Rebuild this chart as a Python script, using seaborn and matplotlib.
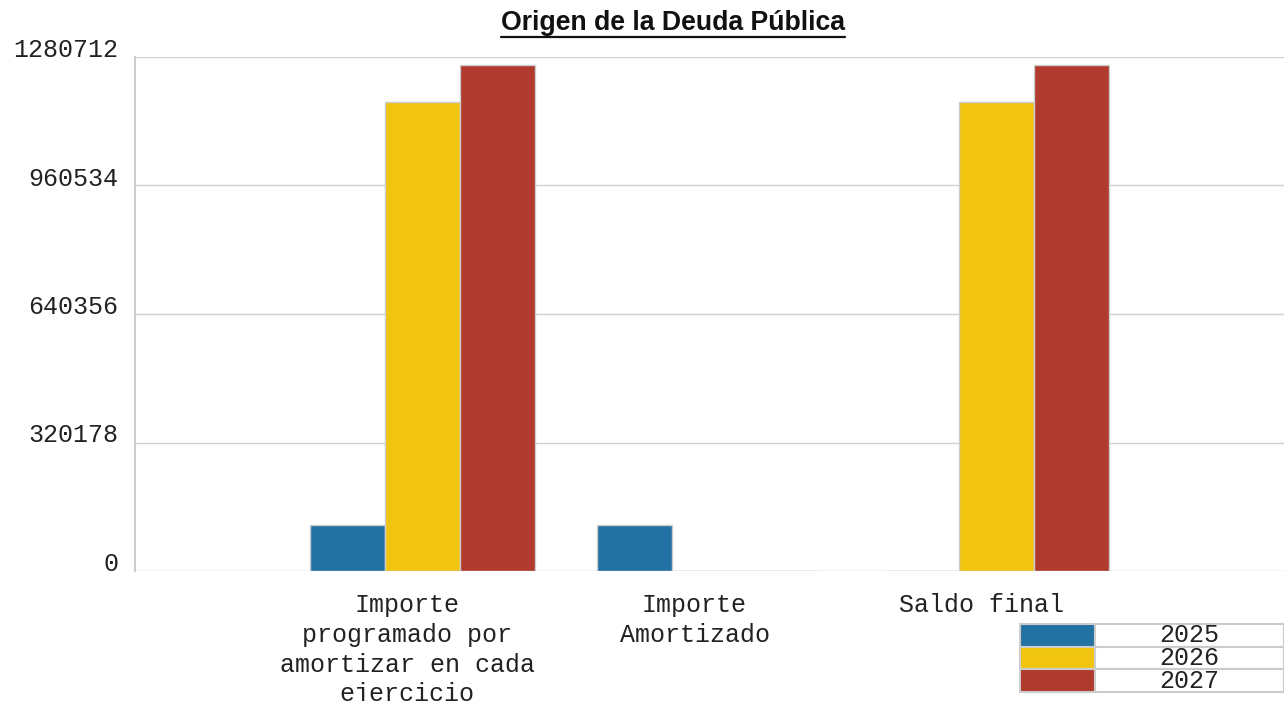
import pandas as pd
import matplotlib.pyplot as plt
import matplotlib.transforms as mtransforms
import seaborn as sns
from matplotlib.lines import Line2D

# donnees
categorias = ["Importe\nprogramado por\namortizar en cada\nejercicio",
              "Importe\nAmortizado",
              "Saldo final"]
anios = ["2025", "2026", "2027"]
valores_2025 = [113400, 113400, 0]
valores_2026 = [1168600, 0, 1168600]
valores_2027 = [1261500, 0, 1261500]
ticks_y = [0, 320178, 640356, 960534, 1280712]
colores = ["#2471A3", "#F1C40F", "#B03A2E"]

df = pd.DataFrame({
    "categoria": categorias * 3,
    "anio": [a for a in anios for _ in categorias],
    "valor": valores_2025 + valores_2026 + valores_2027,
})

sns.set_style("white")
plt.rcParams["font.family"] = ["Liberation Mono", "DejaVu Sans Mono"]

fig = plt.figure(figsize=(12.84, 7.01), dpi=100)
ax = fig.add_axes([135 / 1284, 1 - 571 / 701, 1 - 135 / 1284, (571 - 57) / 701])

sns.barplot(data=df, x="categoria", y="valor", hue="anio", hue_order=anios,
            order=categorias, palette=colores, width=0.785, saturation=1,
            edgecolor="#cccccc", linewidth=1, legend=False, ax=ax, zorder=3)

ax.set_xlim(-1, 3)
ax.set_ylim(0, ticks_y[-1])
ax.set_yticks(ticks_y)
ax.set_yticklabels([str(t) for t in ticks_y])
ax.set_xlabel("")
ax.set_ylabel("")
ax.yaxis.grid(True, color="#d0d0d0", linewidth=1, zorder=0)
ax.tick_params(axis="both", length=0, labelsize=18, labelcolor="#222222")
ax.tick_params(axis="y", pad=12)
ax.tick_params(axis="x", pad=16)
for lab in ax.get_yticklabels():
    lab.set_va("baseline")
decal = mtransforms.ScaledTranslation(-0.15, 0, fig.dpi_scale_trans)
for lab in ax.get_xticklabels():
    lab.set_transform(lab.get_transform() + decal)
    lab.set_linespacing(1.3)

for side in ["top", "right", "bottom"]:
    ax.spines[side].set_visible(False)
ax.spines["left"].set_color("#cccccc")
ax.spines["left"].set_linewidth(1.5)

# titre souligne
titre = fig.text(673 / 1284, 1 - 23 / 701, "Origen de la Deuda Pública",
                 ha="center", va="center", fontsize=19.2, fontweight="bold",
                 family="Liberation Sans", color="#111111")
fig.canvas.draw()
bb = titre.get_window_extent().transformed(fig.transFigure.inverted())
y_sous = 1 - 37 / 701
fig.add_artist(Line2D([bb.x0, bb.x1], [y_sous, y_sous], transform=fig.transFigure,
                      color="#111111", linewidth=1.6))

# legende sous forme de tableau
tab = ax.table(cellText=[["", a] for a in anios],
               cellColours=[[c, "white"] for c in colores],
               colWidths=[0.284 * 0.23, 0.716 * 0.23],
               bbox=[0.770, -0.2354, 0.230, 0.1323], cellLoc="center")
tab.auto_set_font_size(False)
for (r, c), cell in tab.get_celld().items():
    cell.set_edgecolor("#cccccc")
    cell.set_linewidth(1.5)
    cell.get_text().set_fontsize(18)
    cell.get_text().set_color("#222222")

fig.savefig("out.png", dpi=100)
